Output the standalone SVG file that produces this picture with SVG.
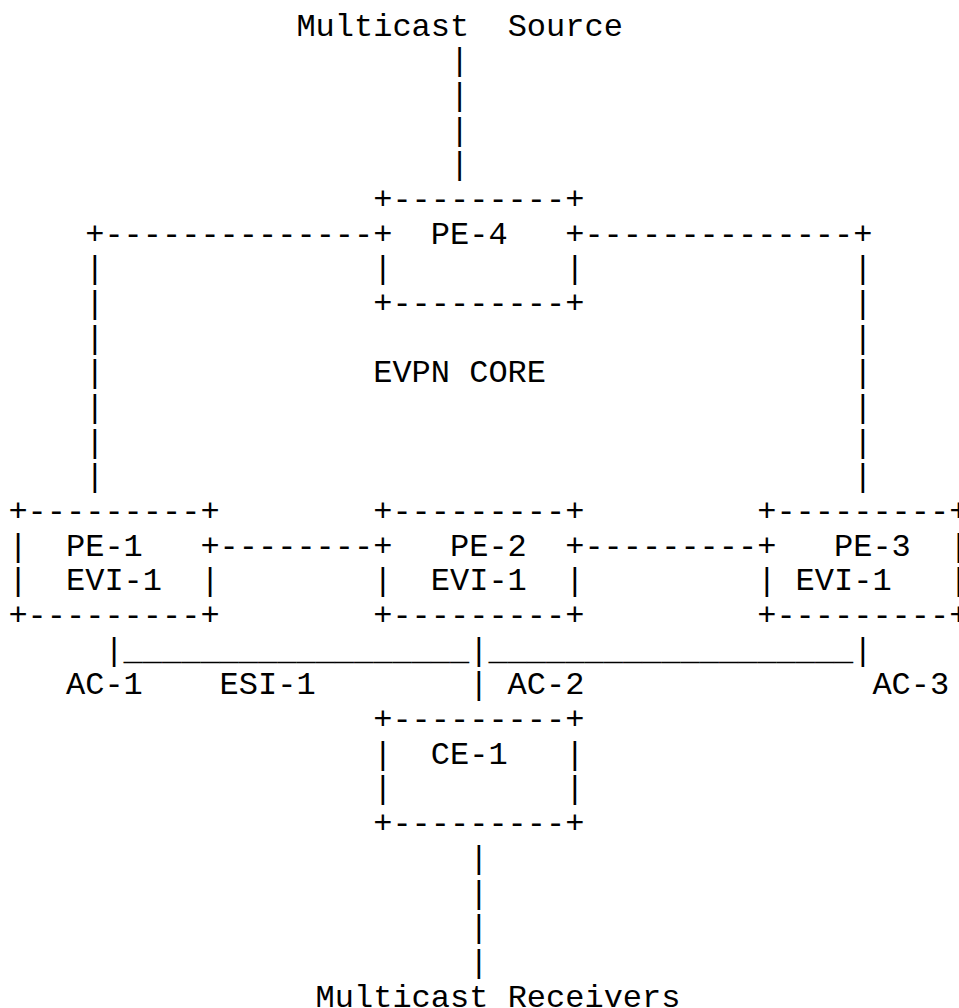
<svg xmlns="http://www.w3.org/2000/svg" width="959" height="1008" viewBox="0 0 959 1008">
<style>
text{font-family:"Liberation Mono","Courier New",monospace;font-size:32px;fill:#000;white-space:pre}
</style>
<rect width="959" height="1008" fill="#fff"/>
<g id="connectors" xml:space="preserve">
<text x="450" y="70.4">|</text>
<text x="450" y="105">|</text>
<text x="450" y="139.7">|</text>
<text x="450" y="174.4">|</text>
<text x="85.2" y="243.7">+--------------</text>
<text x="584.4" y="243.7">--------------+</text>
<text x="85.2" y="278.4">|</text><text x="853.2" y="278.4">|</text>
<text x="85.2" y="313.1">|</text><text x="853.2" y="313.1">|</text>
<text x="85.2" y="347.7">|</text><text x="853.2" y="347.7">|</text>
<text x="85.2" y="382.4">|</text><text x="853.2" y="382.4">|</text>
<text x="85.2" y="417.1">|</text><text x="853.2" y="417.1">|</text>
<text x="85.2" y="451.7">|</text><text x="853.2" y="451.7">|</text>
<text x="85.2" y="486.4">|</text><text x="853.2" y="486.4">|</text>
<text x="219.6" y="555.8">--------</text>
<text x="584.4" y="555.8">---------</text>
<text x="104.4" y="659.8">|__________________|___________________|</text>
<text x="469.2" y="694.4">|</text>
<text x="469.2" y="867.8">|</text>
<text x="469.2" y="902.5">|</text>
<text x="469.2" y="937.1">|</text>
<text x="469.2" y="971.8">|</text>
</g>
<g id="source"><text x="296.4" y="35.7" xml:space="preserve">Multicast  Source</text></g>
<g id="pe4" xml:space="preserve">
<text x="373.2" y="209.1">+---------+</text>
<text x="373.2" y="243.7">+  PE-4   +</text>
<text x="373.2" y="278.4">|         |</text>
<text x="373.2" y="313.1">+---------+</text>
</g>
<g id="evpn-core"><text x="373.2" y="382.4" xml:space="preserve">EVPN CORE</text></g>
<g id="pe1" xml:space="preserve">
<text x="8.4" y="521.1">+---------+</text>
<text x="8.4" y="555.8">|  PE-1   +</text>
<text x="8.4" y="590.4">|  EVI-1  |</text>
<text x="8.4" y="625.1">+---------+</text>
</g>
<g id="pe2" xml:space="preserve">
<text x="373.2" y="521.1">+---------+</text>
<text x="373.2" y="555.8">+   PE-2  +</text>
<text x="373.2" y="590.4">|  EVI-1  |</text>
<text x="373.2" y="625.1">+---------+</text>
</g>
<g id="pe3" xml:space="preserve">
<text x="757.2" y="521.1">+---------+</text>
<text x="757.2" y="555.8">+   PE-3  |</text>
<text x="757.2" y="590.4">| EVI-1   |</text>
<text x="757.2" y="625.1">+---------+</text>
</g>
<g id="labels" xml:space="preserve">
<text x="66" y="694.4">AC-1</text>
<text x="219.6" y="694.4">ESI-1</text>
<text x="507.6" y="694.4">AC-2</text>
<text x="872.4" y="694.4">AC-3</text>
</g>
<g id="ce1" xml:space="preserve">
<text x="373.2" y="729.1">+---------+</text>
<text x="373.2" y="763.8">|  CE-1   |</text>
<text x="373.2" y="798.4">|         |</text>
<text x="373.2" y="833.1">+---------+</text>
</g>
<g id="receivers"><text x="315.6" y="1006.5" xml:space="preserve">Multicast Receivers</text></g>
</svg>
